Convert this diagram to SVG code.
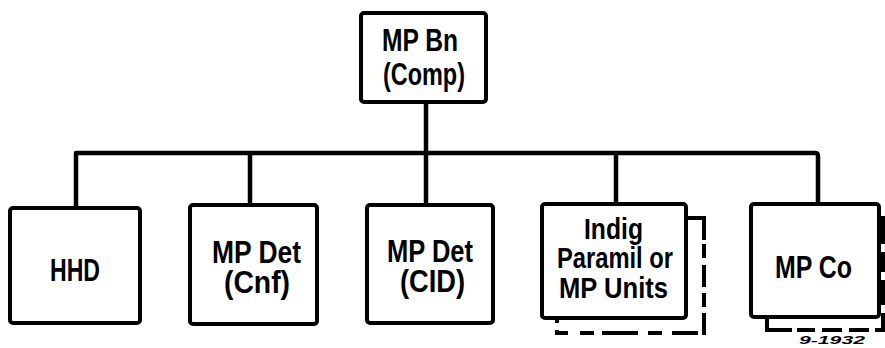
<svg xmlns="http://www.w3.org/2000/svg" width="885" height="348" viewBox="0 0 885 348">
<style>
.box{fill:#fff;stroke:#000;stroke-width:4;}
.ln{fill:none;stroke:#000;stroke-width:4.5;stroke-linejoin:round;}
.sh{fill:none;stroke:#000;stroke-width:4;}
.t{font-family:"Liberation Sans",Arial,sans-serif;font-weight:bold;font-size:31px;fill:#000;}
.u{font-family:"Liberation Sans",Arial,sans-serif;font-weight:bold;font-size:29px;fill:#000;}
.s{font-family:"Liberation Sans",Arial,sans-serif;font-weight:bold;font-style:italic;font-size:11px;fill:#000;}
</style>
<rect width="885" height="348" fill="#fff"/>
<g id="connectors">
<path class="ln" d="M426,102 V205"/>
<path class="ln" d="M76,208 V153 H815 Q818,153 818,156 V204"/>
<path class="ln" d="M250,153 V205"/>
<path class="ln" d="M616,153 V204"/>
</g>
<g id="node-mpbn">
<rect class="box" x="361" y="13" width="125" height="89" rx="3"/>
<text class="t" x="382" y="51" textLength="76" lengthAdjust="spacingAndGlyphs">MP Bn</text>
<text class="t" x="383" y="85" textLength="82" lengthAdjust="spacingAndGlyphs">(Comp)</text>
</g>
<g id="node-hhd">
<rect class="box" x="10" y="208" width="130" height="115" rx="3"/>
<text class="t" x="50" y="281" textLength="50" lengthAdjust="spacingAndGlyphs">HHD</text>
</g>
<g id="node-cnf">
<rect class="box" x="190" y="205" width="127" height="119" rx="3"/>
<text class="t" x="212" y="263" textLength="89" lengthAdjust="spacingAndGlyphs">MP Det</text>
<text class="t" x="224" y="293" textLength="66" lengthAdjust="spacingAndGlyphs">(Cnf)</text>
</g>
<g id="node-cid">
<rect class="box" x="367" y="205" width="126" height="118" rx="3"/>
<text class="t" x="387" y="262" textLength="86" lengthAdjust="spacingAndGlyphs">MP Det</text>
<text class="t" x="400" y="292" textLength="65" lengthAdjust="spacingAndGlyphs">(CID)</text>
</g>
<g id="node-indig">
<path class="sh" d="M686,218 H704 V240" />
<path class="sh" d="M704,240 V333 H557 V318" stroke-dasharray="0 4 14 7 22 6 14 6 22 4 26 10 14 10 36 8 14 8"/>
<rect class="box" x="542" y="204" width="144" height="114" rx="3"/>
<text class="u" x="584" y="239" textLength="59" lengthAdjust="spacingAndGlyphs">Indig</text>
<text class="u" x="557" y="268" textLength="116" lengthAdjust="spacingAndGlyphs">Paramil or</text>
<text class="u" x="559" y="298" textLength="109" lengthAdjust="spacingAndGlyphs">MP Units</text>
</g>
<g id="node-mpco">
<path class="sh" d="M879,218 H883 V330" stroke-dasharray="30 8 20 8 25 8 20 8"/>
<path class="sh" d="M767,317 V330 H792"/>
<path class="sh" d="M797,330 H885" stroke-dasharray="18 7 20 7 20 6"/>
<rect class="box" x="751" y="204" width="128" height="113" rx="3"/>
<text class="t" x="775" y="278" textLength="77" lengthAdjust="spacingAndGlyphs">MP Co</text>
</g>
<text class="s" x="799" y="344" textLength="66" lengthAdjust="spacingAndGlyphs">9-1932</text>
</svg>
